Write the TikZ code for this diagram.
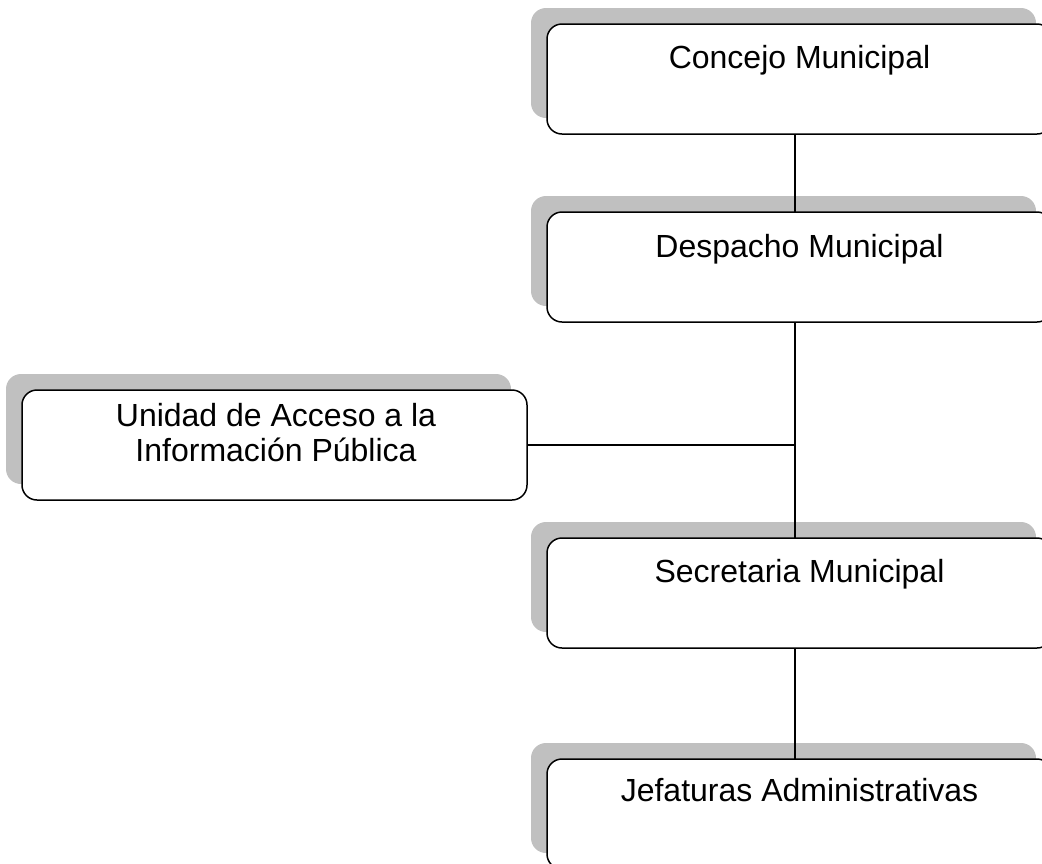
\documentclass[tikz,border=0pt]{standalone}
\usepackage{fontspec}
\setmainfont{Liberation Sans}
\usetikzlibrary{shadows}
\definecolor{shadowgray}{RGB}{192,192,192}
\tikzset{
  orgbox/.style={draw=black, line width=1.5pt, fill=white, rounded corners=15pt,
    minimum width=505pt, minimum height=110pt, inner sep=0pt, outer sep=0pt, anchor=north west,
    drop shadow={shadow xshift=-16pt, shadow yshift=16pt, fill=shadowgray, opacity=1}},
  boxtext/.style={font=\fontsize{32}{35}\selectfont, align=center, inner sep=0pt},
  link/.style={line width=1.5pt, draw=black}
}
\begin{document}
\begin{tikzpicture}[x=1pt,y=-1pt]
\useasboundingbox (0,0) rectangle (1042,863);
\coordinate (vx) at (795,0);
% boxes
\node[orgbox] (concejo) at (547,24) {};
\node[orgbox] (despacho) at (547,212) {};
\node[orgbox] (unidad) at (22,390) {};
\node[orgbox] (secretaria) at (547,538) {};
\node[orgbox] (jefaturas) at (547,759) {};
% texts
\node[boxtext, anchor=base] (concejoT) at (799.5,68) {Concejo Municipal};
\node[boxtext, anchor=base] (despachoT) at (799.5,257) {Despacho Municipal};
\node[boxtext, anchor=center] (unidadT) at (276,433) {Unidad de Acceso a la\\Información Pública};
\node[boxtext, anchor=base] (secretariaT) at (799.5,582) {Secretaria Municipal};
\node[boxtext, anchor=base] (jefaturasT) at (799.5,801) {Jefaturas Administrativas};
% connectors
\draw[link] (concejo.south -| vx) -- (despacho.north -| vx);
\draw[link] (despacho.south -| vx) -- (secretaria.north -| vx);
\draw[link] (secretaria.south -| vx) -- (jefaturas.north -| vx);
\draw[link] (unidad.east) -- (unidad.east -| vx);
\end{tikzpicture}
\end{document}
